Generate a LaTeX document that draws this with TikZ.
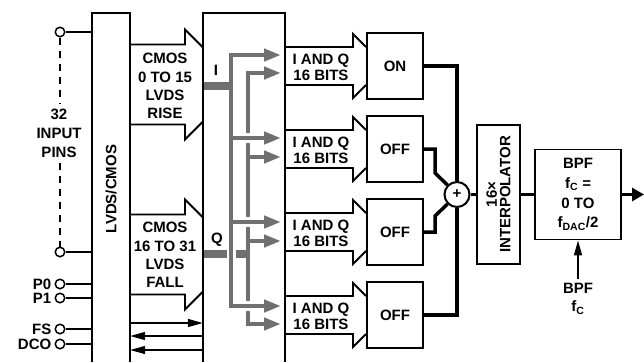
\documentclass[tikz,border=0pt]{standalone}
\usepackage{fontspec}
\setmainfont{Liberation Sans}
\usetikzlibrary{positioning, arrows.meta}

\definecolor{busgray}{RGB}{112,112,112}

\begin{document}
\begin{tikzpicture}[
    x=1pt, y=-1pt,
    every node/.style={font=\fontsize{15}{18}\selectfont\bfseries, inner sep=0pt, align=center},
    outl/.style={line width=1.8pt},
    colblk/.style={minimum width=#1, minimum height=349pt},
    selbox/.style={draw, line width=1.8pt, minimum width=56pt, minimum height=66pt},
    pin/.style={draw, circle, fill=white, line width=1.5pt, minimum size=9.5pt},
    gline/.style={busgray, line width=4.5pt},
    gtip/.style={gline, -{Triangle[length=17pt,width=12pt]}},
    gboth/.style={gline, {Triangle[length=17pt,width=12pt]}-{Triangle[length=17pt,width=12pt]}},
    gbar/.style={busgray, line width=8pt},
    halo/.style={white, line width=#1},
    sarrow/.style={line width=1.5pt, -{Triangle[length=15pt,width=8pt]}},
    sumline/.style={line width=3.5pt},
  ]
  \useasboundingbox (0,0) rectangle (644,362);

  % ---- Receiver and mux columns ----
  \node[colblk=38pt] (lvds) at (111,187.5) {};
  \node[colblk=82pt] (mux) at (244,187.5) {};
  \draw[outl] (lvds.south west) |- (lvds.north east) -- (lvds.south east);
  \draw[outl] (mux.south west) |- (mux.north east) -- (mux.south east);
  \node[rotate=90] (lvdstxt) at (111,189) {LVDS/CMOS};

  % ---- Input pins ----
  \node[pin] (pina) at (60,32) {};
  \node[pin] (pinb) at (60,252) {};
  \node[pin] (p0) at (60,284) {};
  \node[pin] (p1) at (60,298) {};
  \node[pin] (fs) at (60,329) {};
  \node[pin] (dco) at (60,344) {};
  \foreach \p in {pina,pinb,p0,p1,fs,dco}
    \draw[outl] (\p.east) -- (\p -| lvds.west);
  \node[left=3pt of p0] (lp0) {P0};
  \node[left=3pt of p1] (lp1) {P1};
  \node[left=3pt of fs] (lfs) {FS};
  \node[left=3pt of dco] (ldco) {DCO};
  \node[font=\fontsize{15}{19}\selectfont\bfseries, inner sep=5pt] (inlbl) at (59,133) {32\\INPUT\\PINS};
  \draw[line width=1.2pt, dash pattern=on 7pt off 6pt] (pina) -- (pina |- inlbl.north);
  \draw[line width=1.2pt, dash pattern=on 7pt off 6pt] (pinb |- inlbl.south) -- (pinb);

  % ---- Wide buses into the mux ----
  \foreach \c in {84.5,254.5} {
    \draw[outl] (130,{\c-40}) -- (185,{\c-40}) -- (185,{\c-55}) -- (203,{\c-37});
    \draw[outl] (130,{\c+40}) -- (185,{\c+40}) -- (185,{\c+55}) -- (203,{\c+37});
  }
  \node[font=\fontsize{15}{18.3}\selectfont\bfseries] (rise) at (165,86) {CMOS\\0 TO 15\\LVDS\\RISE};
  \node[font=\fontsize{15}{18.3}\selectfont\bfseries] (fall) at (165,255) {CMOS\\16 TO 31\\LVDS\\FALL};

  % ---- Control lines ----
  \draw[sarrow] (lvds.east |- 0,323) -- (mux.west |- 0,323);
  \draw[sarrow] (mux.west |- 0,336) -- (lvds.east |- 0,336);
  \draw[sarrow] (mux.west |- 0,350) -- (lvds.east |- 0,350);

  % ---- I and Q routing ----
  \node (ilbl) at (216,70) {I};
  \node (qlbl) at (217,240) {Q};
  \draw[gbar] (204,254) -- (248,254);
  \draw[gboth] (281,73) -| (248,324) -- (281,324);
  \draw[gtip] (248,157) -- (281,157);
  \draw[gtip] (248,241) -- (281,241);
  \foreach \y in {138,222,306}
    \draw[halo=10pt] (242,\y) -- (254,\y);
  \draw[halo=9pt] (231,247) -- (231,261);
  \draw[gbar] (204,86) -- (231,86);
  \draw[gboth] (281,55) -| (231,306) -- (281,306);
  \draw[gtip] (231,138) -- (281,138);
  \draw[gtip] (231,222) -- (281,222);

  % ---- Channel select ----
  \node[selbox] (on) at (395,66) {ON};
  \node[selbox] (offa) at (395,149) {OFF};
  \node[selbox] (offb) at (395,232) {OFF};
  \node[selbox] (offc) at (395,315) {OFF};
  \foreach \c/\n in {66/on,149/offa,232/offb,315/offc} {
    \draw[outl] (285,{\c-19}) -- (353,{\c-19}) -- (353,{\c-32}) -- (366,{\c-19});
    \draw[outl] (285,{\c+19}) -- (353,{\c+19}) -- (353,{\c+32}) -- (366,{\c+19});
    \node[font=\fontsize{15}{16}\selectfont\bfseries] (iq\n) at (321,{\c+1}) {I AND Q\\16 BITS};
  }

  % ---- Sum, interpolator, filter ----
  \node[draw, circle, line width=2pt, minimum size=25pt] (sum) at (457,194.5) {+};
  \node[draw, line width=1.8pt, minimum width=43pt, minimum height=139pt] (interp) at (498.5,194.5) {};
  \node[rotate=90, font=\fontsize{15}{13.5}\selectfont\bfseries] (interptxt) at (interp) {16×\\INTERPOLATOR};
  \node[draw, line width=1.8pt, minimum width=86pt, minimum height=90pt,
        font=\fontsize{15}{19.7}\selectfont\bfseries] (bpf) at (578,194.5)
        {BPF\\f\textsubscript{C} =\\0 TO\\f\textsubscript{DAC}/2};
  \node[font=\fontsize{15}{18}\selectfont\bfseries, inner sep=4pt] (fclbl) at (578,299) {BPF\\f\textsubscript{C}};
  \coordinate (out) at (644,194.5);

  \draw[sumline] (on.east) -| (sum.north);
  \draw[sumline] (offa.east) -- (435,149) -- (435,173) -- (sum.135);
  \draw[sumline] (offb.east) -- (435,232) -- (435,216) -- (sum.225);
  \draw[sumline] (offc.east) -| (sum.south);
  \draw[sumline] (sum.east) -- (interp.west |- sum.east);
  \draw[sumline] (interp.east |- sum.east) -- (bpf.west |- sum.east);
  \draw[sumline, -{Triangle[length=12pt,width=13pt]}] (bpf.east) -- (out);
  \draw[sarrow] (fclbl.north) -- (bpf.south);

\end{tikzpicture}
\end{document}
